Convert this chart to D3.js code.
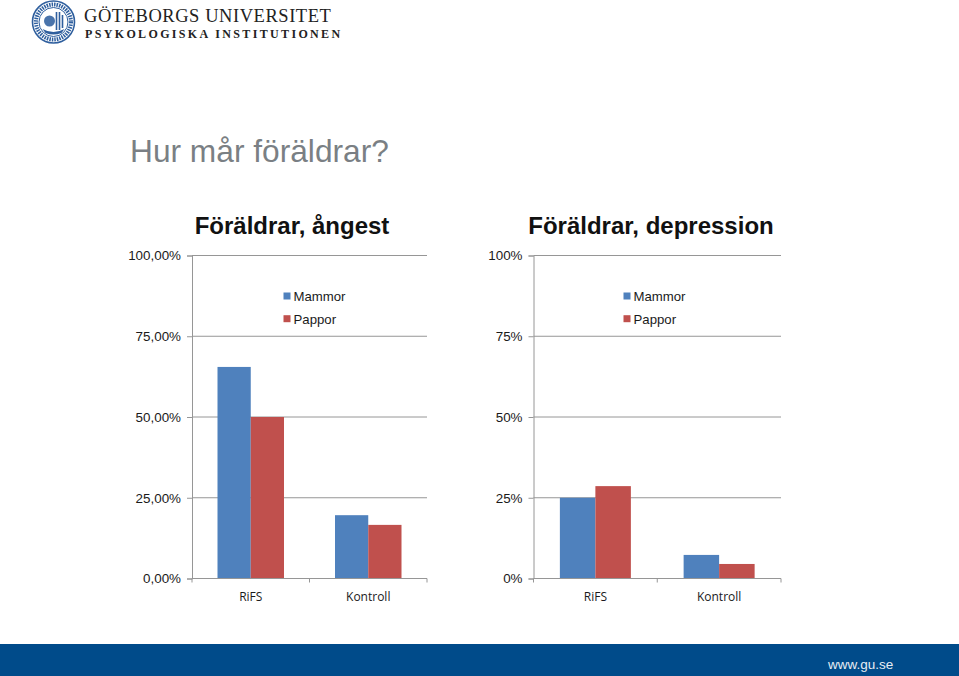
<!DOCTYPE html>
<html>
<head>
<meta charset="utf-8">
<script src="https://cdn.jsdelivr.net/npm/d3@7"></script>
<style>
  html, body { margin: 0; padding: 0; background: #fff; }
  svg { display: block; font-family: "Liberation Sans", sans-serif; }
  .axis text { font-size: 13.4px; fill: #1a1a1a; }
  .catAxis text { font-family: "Open Sans", sans-serif; font-size: 12px; fill: #1a1a1a; }
  .axis line, .axis path, .grid line { stroke: #969696; stroke-width: 1; fill: none; }
  .chartTitle { font-size: 24px; font-weight: bold; fill: #111; text-anchor: middle; }
  .legendLabel { font-size: 13.2px; fill: #1a1a1a; }
</style>
</head>
<body>
<svg id="slide" width="959" height="676"></svg>
<script>
const categories = ['RiFS', 'Kontroll']
const seriesNames = ['Mammor', 'Pappor']
const colors = ['#4f81bd', '#c0504d']

const anxietyMothers = [65.5, 19.6]
const anxietyFathers = [50, 16.6]
const depressionMothers = [25, 7.3]
const depressionFathers = [28.6, 4.5]

const anxietyTicks = ['0,00%', '25,00%', '50,00%', '75,00%', '100,00%']
const depressionTicks = ['0%', '25%', '50%', '75%', '100%']
const tickValues = [0, 25, 50, 75, 100]

const svg = d3.select('#slide')

const y = d3.scaleLinear().domain([0, 100]).range([578.5, 255.5])

const drawChart = function(opts) {
  const x = d3.scaleBand().domain(categories).range([opts.left, opts.right])
  const inner = d3.scaleBand().domain(seriesNames).range([0, x.bandwidth()]).paddingOuter(opts.gap).paddingInner(0)

  const g = svg.append('g')

  // gridlines sit behind the bars
  g.append('g')
    .attr('class', 'grid')
    .selectAll('line')
    .data(tickValues.slice(1))
    .join('line')
    .attr('x1', opts.left)
    .attr('x2', opts.right)
    .attr('y1', d => y(d))
    .attr('y2', d => y(d))

  const series = [opts.mothers, opts.fathers]
  series.forEach((values, s) => {
    g.append('g')
      .selectAll('rect')
      .data(values)
      .join('rect')
      .attr('x', (d, i) => x(categories[i]) + inner(seriesNames[s]))
      .attr('y', d => y(d))
      .attr('width', inner.bandwidth())
      .attr('height', d => y(0) - y(d))
      .attr('fill', colors[s])
  })

  const yAxis = d3.axisLeft(y)
    .tickValues(tickValues)
    .tickFormat((d, i) => opts.ticks[i])
    .tickSize(5)
    .tickPadding(6)

  g.append('g')
    .attr('class', 'axis')
    .attr('transform', `translate(${opts.left},0)`)
    .call(yAxis)

  // category axis: ticks fall on the band edges, labels in the middle
  const xAxis = g.append('g')
    .attr('class', 'axis catAxis')
    .attr('transform', `translate(0,${y(0)})`)

  xAxis.append('line').attr('x1', opts.left).attr('x2', opts.right)

  xAxis.selectAll('.edge')
    .data([opts.left, x(categories[1]), opts.right])
    .join('line')
    .attr('class', 'edge')
    .attr('x1', d => d)
    .attr('x2', d => d)
    .attr('y1', 0)
    .attr('y2', 4)

  xAxis.selectAll('text')
    .data(categories)
    .join('text')
    .attr('x', d => x(d) + x.bandwidth() / 2)
    .attr('y', 22)
    .attr('text-anchor', 'middle')
    .text(d => d)

  svg.append('text')
    .attr('class', 'chartTitle')
    .attr('x', opts.titleX)
    .attr('y', 234)
    .text(opts.title)

  const legend = g.selectAll('.legend')
    .data(seriesNames)
    .join('g')
    .attr('class', 'legend')
    .attr('transform', (d, i) => `translate(${opts.legendX},${296 + i * 22.7})`)

  legend.append('rect')
    .attr('x', 0)
    .attr('y', -3.5)
    .attr('width', 7)
    .attr('height', 7)
    .attr('fill', (d, i) => colors[i])

  legend.append('text')
    .attr('class', 'legendLabel')
    .attr('x', 10)
    .attr('y', 5)
    .text(d => d)
}

drawChart({
  left: 192, right: 427, gap: 0.767,
  mothers: anxietyMothers, fathers: anxietyFathers,
  ticks: anxietyTicks, title: 'Föräldrar, ångest', titleX: 292, legendX: 283.5
})

drawChart({
  left: 533.5, right: 781, gap: 0.743,
  mothers: depressionMothers, fathers: depressionFathers,
  ticks: depressionTicks, title: 'Föräldrar, depression', titleX: 651, legendX: 623.5
})

// slide title
svg.append('text')
  .attr('x', 130)
  .attr('y', 162)
  .attr('font-size', 31.7)
  .attr('fill', '#7a7f84')
  .text('Hur mår föräldrar?')

// university header
const seal = svg.append('g').attr('transform', 'translate(53.5,22)')
seal.append('circle').attr('r', 21).attr('fill', '#fff').attr('stroke', '#2f5f9e').attr('stroke-width', 1.6)
seal.append('circle').attr('r', 17.5).attr('fill', 'none').attr('stroke', '#2f5f9e').attr('stroke-width', 4).attr('stroke-dasharray', '1.5 1')
seal.append('circle').attr('r', 14.5).attr('fill', '#fff').attr('stroke', '#2f5f9e').attr('stroke-width', 1)
seal.append('circle').attr('cx', -4).attr('cy', -1).attr('r', 5.5).attr('fill', '#4a74ab')
seal.append('path').attr('d', 'M-11 7 Q0 13 11 7 L8 11 Q0 14 -8 11 Z').attr('fill', '#2f5f9e')
seal.append('path').attr('d', 'M3 8 V-10 M6 8 V-10 M9 6 V-7').attr('stroke', '#2f5f9e').attr('stroke-width', 1.6).attr('fill', 'none')

svg.append('text')
  .attr('x', 84)
  .attr('y', 21.5)
  .attr('font-family', '"Liberation Serif", serif')
  .attr('font-size', 18.5)
  .attr('letter-spacing', 0.55)
  .attr('fill', '#222')
  .text('GÖTEBORGS UNIVERSITET')

svg.append('text')
  .attr('x', 85)
  .attr('y', 37.5)
  .attr('font-family', '"Liberation Serif", serif')
  .attr('font-size', 12)
  .attr('font-weight', 'bold')
  .attr('letter-spacing', 2.35)
  .attr('fill', '#222')
  .text('PSYKOLOGISKA INSTITUTIONEN')

// footer band
svg.append('rect')
  .attr('x', 0)
  .attr('y', 644)
  .attr('width', 959)
  .attr('height', 32)
  .attr('fill', '#004b8a')

svg.append('text')
  .attr('x', 828)
  .attr('y', 669)
  .attr('font-size', 13.5)
  .attr('fill', '#e6edf4')
  .text('www.gu.se')
</script>
</body>
</html>
